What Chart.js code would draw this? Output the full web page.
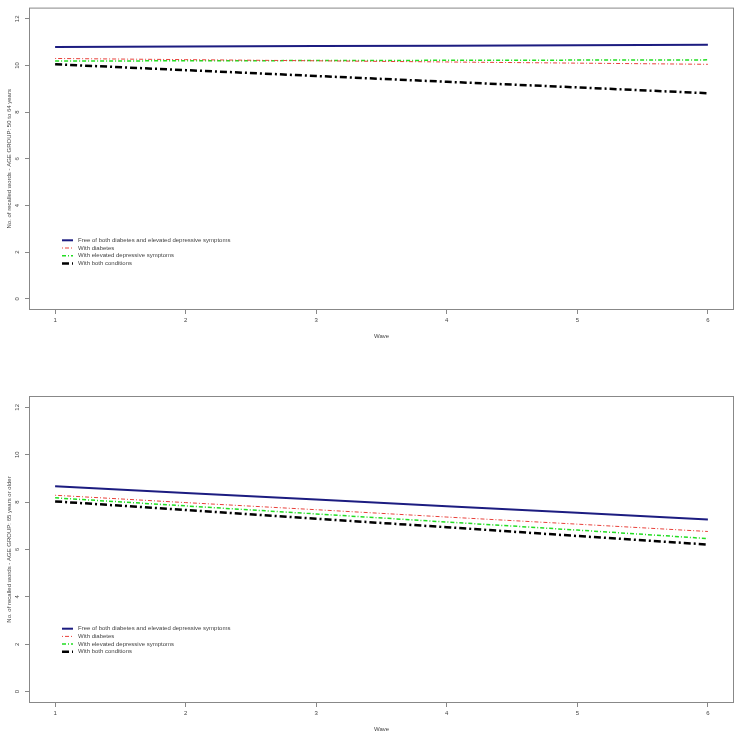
<!DOCTYPE html>
<html>
<head>
<meta charset="utf-8">
<script src="https://cdn.jsdelivr.net/npm/chart.js@4"></script>
<style>
  body { margin: 0; background: #fff; }
  canvas { position: absolute; left: 0; }
</style>
</head>
<body>
<canvas id="topChart" width="736" height="366" style="top:0"></canvas>
<canvas id="bottomChart" width="736" height="368" style="top:366px"></canvas>
<script>
const waves = [1, 2, 3, 4, 5, 6];
const yTicks = [0, 2, 4, 6, 8, 10, 12];
const groupNames = [
  "Free of both diabetes and elevated depressive symptoms",
  "With diabetes",
  "With elevated depressive symptoms",
  "With both conditions"
];

// age 50 to 64
const young_free = [10.79, 10.81, 10.83, 10.85, 10.87, 10.89];
const young_diab = [10.30, 10.25, 10.20, 10.15, 10.10, 10.05];
const young_dep = [10.19, 10.20, 10.21, 10.22, 10.23, 10.24];
const young_both = [10.05, 9.80, 9.55, 9.30, 9.06, 8.81];

// age 65+
const old_free = [8.67, 8.39, 8.11, 7.83, 7.55, 7.27];
const old_diab = [8.29, 7.98, 7.68, 7.37, 7.07, 6.76];
const old_dep = [8.18, 7.84, 7.50, 7.16, 6.82, 6.46];
const old_both = [8.03, 7.67, 7.30, 6.94, 6.57, 6.21];

const lineStyles = [
  { color: "#1c1c80", width: 2, dash: [] },
  { color: "#e8403a", width: 1, dash: [1, 2, 4, 2] },
  { color: "#22dd22", width: 1.5, dash: [4, 2, 1, 2] },
  { color: "#000000", width: 2.5, dash: [7, 3, 2, 3] }
];

const textColor = "#444";
const fontFamily = "'Liberation Sans', Arial, sans-serif";

function makeDatasets(seriesList) {
  return seriesList.map((vals, i) => ({
    label: groupNames[i],
    data: waves.map((w, j) => ({ x: w, y: vals[j] })),
    borderColor: lineStyles[i].color,
    borderWidth: lineStyles[i].width,
    borderDash: lineStyles[i].dash,
    pointRadius: 0,
    fill: false,
    tension: 0
  }));
}

// draws the R style box and the legend inside the plot
const boxAndLegend = {
  id: "boxAndLegend",
  afterDraw(chart) {
    const ctx = chart.ctx;
    const a = chart.chartArea;
    ctx.save();
    ctx.strokeStyle = "#888";
    ctx.lineWidth = 1;
    ctx.setLineDash([]);
    ctx.strokeRect(a.left + 0.5, a.top + 0.5, a.right - a.left - 1, a.bottom - a.top - 1);

    const x0 = a.left + 33;
    let y = a.top + 232.7;
    ctx.font = "6px " + fontFamily;
    ctx.textBaseline = "middle";
    chart.data.datasets.forEach(ds => {
      ctx.strokeStyle = ds.borderColor;
      ctx.lineWidth = ds.borderWidth;
      ctx.setLineDash(ds.borderDash);
      ctx.beginPath();
      ctx.moveTo(x0, y);
      ctx.lineTo(x0 + 11, y);
      ctx.stroke();
      ctx.setLineDash([]);
      ctx.fillStyle = textColor;
      ctx.fillText(ds.label, x0 + 16, y);
      y += 7.7;
    });
    ctx.restore();
  }
};

function makeChart(id, seriesList, yTitle, pad) {
  new Chart(document.getElementById(id), {
    type: "line",
    data: { datasets: makeDatasets(seriesList) },
    options: {
      responsive: false,
      animation: false,
      layout: { padding: { top: pad.top, right: 2, bottom: pad.bottom, left: 0 } },
      plugins: { legend: { display: false }, tooltip: { enabled: false } },
      scales: {
        x: {
          type: "linear",
          min: 0.8,
          max: 6.2,
          afterBuildTicks: s => { s.ticks = waves.map(v => ({ value: v })); },
          afterFit: s => { s.height = 30; },
          grid: { display: true, drawOnChartArea: false, drawTicks: true, tickLength: 4, color: "#888" },
          border: { display: false },
          ticks: { color: textColor, font: { size: 6, family: fontFamily }, padding: 3, maxRotation: 0 },
          title: { display: true, text: "Wave", color: textColor, font: { size: 6, family: fontFamily }, padding: 0 }
        },
        y: {
          min: -0.48,
          max: 12.48,
          afterBuildTicks: s => { s.ticks = yTicks.map(v => ({ value: v })); },
          afterFit: s => { s.width = 29; },
          grid: { display: true, drawOnChartArea: false, drawTicks: true, tickLength: 4, color: "#888" },
          border: { display: false },
          ticks: { color: textColor, font: { size: 6, family: fontFamily }, padding: 4, minRotation: 90, maxRotation: 90, crossAlign: "center" },
          title: { display: true, text: yTitle, color: textColor, font: { size: 6, family: fontFamily }, padding: { top: 6, bottom: 0 } }
        }
      }
    },
    plugins: [boxAndLegend]
  });
}

makeChart("topChart", [young_free, young_diab, young_dep, young_both],
  "No. of recalled words - AGE GROUP: 50 to 64 years", { top: 2, bottom: 26 });
makeChart("bottomChart", [old_free, old_diab, old_dep, old_both],
  "No. of recalled words - AGE GROUP: 65 years or older", { top: 30, bottom: 1 });
</script>
</body>
</html>
